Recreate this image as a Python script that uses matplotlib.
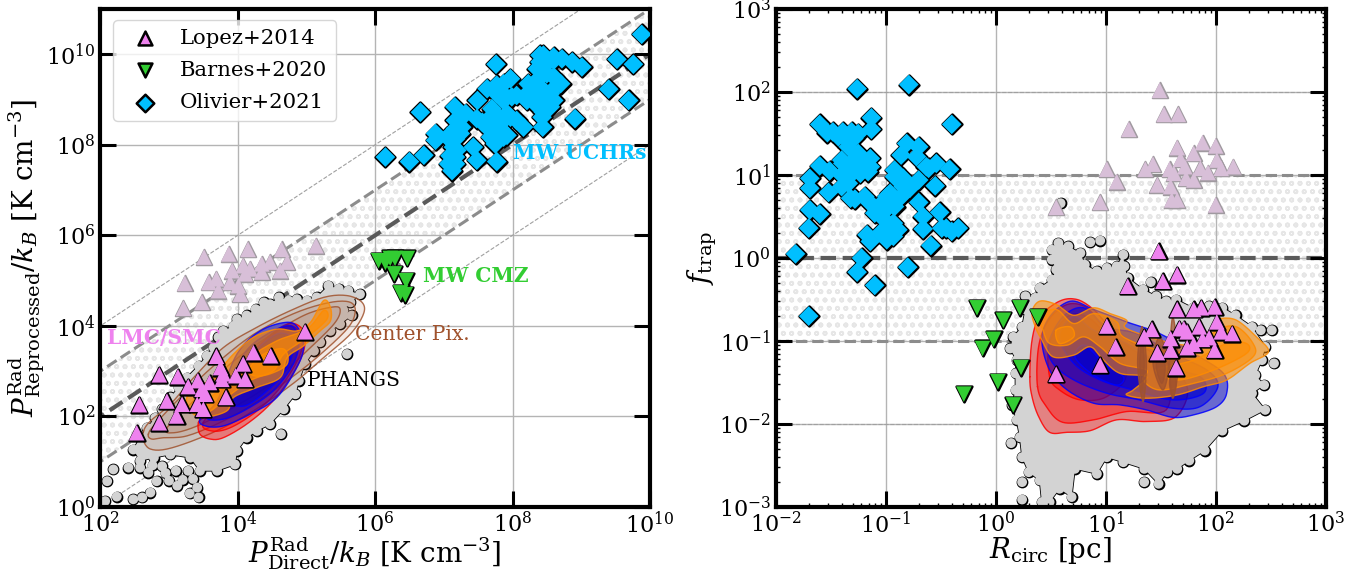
import numpy as np
import matplotlib
matplotlib.use("Agg")
import matplotlib.pyplot as plt
import matplotlib.ticker as mticker

plt.rcParams['font.family'] = ['DejaVu Serif']
plt.rcParams['mathtext.fontset'] = 'dejavuserif'
plt.rcParams['hatch.linewidth'] = 1.2
plt.rcParams['hatch.color'] = '#e6e6e6'

# ---------- all values are log10 of the quantity ----------
# Left panel
lop_x = [2.53,2.86,2.57,2.86,3.13,2.97,3.28,3.11,3.19,3.42,3.41,3.50,3.48,3.53,3.59,3.69,3.75,3.79,3.77,3.83,3.97,4.08,4.11,4.23,4.48,4.98]
lop_y = [1.64,1.86,2.26,2.92,2.88,2.34,2.66,2.01,2.27,2.79,2.27,2.16,2.60,2.49,2.75,3.33,3.08,2.94,2.82,2.42,2.90,3.16,2.82,3.41,3.34,3.87]
lop2_x = [3.23,3.21,3.48,3.51,3.87,4.15,4.64,5.14,3.58,3.69,3.72,3.92,3.89,4.01,4.04,4.08,4.11,4.18,4.35,4.35,4.47,4.62,4.72]
lop2_y = [4.94,4.39,4.52,5.52,5.59,5.69,5.69,5.77,4.96,5.04,4.78,5.22,4.96,4.89,4.70,5.33,5.15,5.26,5.37,5.19,5.41,5.22,5.41]
bar_x = [6.05,6.15,6.22,6.29,6.47,6.28,6.45,6.37,6.44]
bar_y = [5.44,5.40,5.49,5.49,5.49,5.15,5.00,4.73,4.69]
oli_x = [9.88,9.52,9.76,9.40,9.69,8.91,7.76,6.66,6.15,6.50,6.71,6.88,6.88,7.16,7.32,7.49,7.63,7.87,7.97,7.89,8.06,8.21,8.26,8.36,8.45,8.40,8.72,8.87,9.01,8.60,8.50,8.65,8.45,8.40,8.50,8.43,8.44,8.16,7.97,7.87,7.68,7.56,7.73,7.87,7.75,7.63,7.17,7.09,7.14,7.43,7.48,7.77,7.12,7.07,7.17,7.24,
         7.17,7.26,7.05,7.17,7.09,7.19,7.17,7.70,7.77,7.82,7.68,7.92,8.06,7.73,7.92,7.68,7.80,7.48,7.77,7.77,7.99,7.87,8.36,8.45,8.60,8.70,8.55,8.33,8.33,8.60,8.50,8.45,8.55,8.23,8.40,8.60]
oli_y = [10.44,9.89,9.78,9.23,8.98,8.58,9.78,8.72,7.73,7.63,7.77,8.25,8.10,8.84,8.69,8.98,9.24,9.35,9.46,9.09,9.09,8.98,9.20,9.43,9.98,9.83,9.90,9.83,9.72,9.87,9.57,9.31,9.06,9.28,8.84,8.61,8.39,8.39,8.61,8.54,8.61,8.50,8.32,8.17,8.02,8.39,8.36,8.17,7.95,7.95,7.66,7.63,7.43,7.58,7.73,8.25,
         8.54,8.39,8.17,8.13,7.76,7.88,7.58,8.80,8.47,8.36,8.47,8.69,8.54,8.10,8.21,8.17,8.61,8.58,9.32,9.13,9.06,8.98,9.68,9.72,9.50,9.35,9.13,9.09,8.91,8.98,8.98,8.72,8.84,9.35,9.98,9.94]
cloudL = [(2.58,1.02),(2.48,1.27),(2.58,1.53),(2.68,1.75),(2.80,1.97),(2.90,2.16),(3.02,2.42),(3.14,2.64),(3.26,2.86),(3.43,3.12),(3.55,3.34),(3.65,3.52),(3.72,3.75),(3.79,3.89),(3.94,4.00),(3.99,4.15),(4.13,4.23),(4.26,4.37),(4.38,4.52),(4.47,4.48),(4.60,4.63),(4.74,4.56),(4.86,4.59),(5.01,4.56),(5.15,4.63),(5.32,4.89),(5.47,4.82),(5.61,4.78),(5.78,4.70),(5.64,4.52),(5.54,4.34),(5.66,4.23),(5.49,4.04),(5.35,3.89),(5.20,3.64),(5.11,3.45),(4.98,3.16),(4.89,2.79),(4.84,2.49),(4.67,2.16),(4.47,1.83),(4.28,1.68),(4.13,1.53),(3.99,1.24),(3.96,.94),(3.70,.80),(3.45,.80),(3.31,1.09),(3.02,1.16),(2.78,1.09)]
cloudL_out = [(4.63,1.61),(5.59,3.38),(2.07,.13),(2.10,.57),(2.19,.83),(2.41,.87),(2.58,.87),(2.70,.76),(2.82,.57),(3.00,.58),(3.12,.47),(3.41,.43),(3.43,.21),(2.73,.32),(2.61,.21),(2.48,.17),(2.24,.23),(3.28,.80),(3.10,.80),(2.90,.90),(3.30,.30),(3.20,.60),(2.95,.75),(2.76,.92),(3.35,.62)]
cen_L = [[(2.63,1.68),(2.73,1.90),(3.02,2.27),(3.36,2.86),(3.79,3.52),(4.28,3.97),(4.77,4.34),(5.25,4.63),(5.59,4.67),(5.81,4.52),(5.83,4.26),(5.64,3.82),(5.25,3.30),(4.86,2.79),(4.38,2.27),(3.89,1.83),(3.41,1.50),(2.97,1.28),(2.73,1.28),(2.63,1.46)],
         [(2.70,1.61),(2.82,1.87),(3.31,2.64),(3.79,3.30),(4.28,3.86),(4.86,4.30),(5.35,4.52),(5.64,4.52),(5.71,4.30),(5.59,3.93),(5.15,3.30),(4.72,2.79),(4.23,2.27),(3.75,1.87),(3.26,1.57),(2.92,1.53),(2.75,1.50)],
         [(2.97,1.75),(3.41,2.42),(3.89,3.16),(4.43,3.75),(4.96,4.23),(5.35,4.41),(5.49,4.37),(5.40,4.04),(4.96,3.38),(4.47,2.71),(3.94,2.20),(3.41,1.79),(3.07,1.64)]]
red_L = [[(3.43,1.87),(3.55,2.05),(3.89,2.71),(4.28,3.52),(4.72,4.04),(4.96,3.89),(4.96,3.45),(4.77,2.86),(4.47,2.27),(4.13,1.83),(3.79,1.53),(3.60,1.50),(3.45,1.61)],
         [(3.50,1.87),(3.89,2.57),(4.28,3.45),(4.72,4.00),(4.94,3.75),(4.89,3.30),(4.62,2.64),(4.28,2.12),(3.89,1.75),(3.62,1.68)]]
blu_L = [[(3.45,1.94),(3.70,2.35),(3.99,3.38),(4.33,3.89),(4.72,4.08),(4.89,3.93),(4.96,3.53),(4.86,3.08),(4.57,2.42),(4.18,2.05),(3.79,1.79),(3.53,1.79)],
         [(3.55,1.98),(3.79,2.42),(4.09,3.38),(4.43,3.82),(4.77,4.00),(4.89,3.67),(4.81,3.16),(4.52,2.57),(4.13,2.16),(3.79,1.94)],
         [(3.89,2.42),(4.18,3.30),(4.57,3.82),(4.81,3.67),(4.72,3.08),(4.43,2.57),(4.09,2.23)]]
org_L = [[(3.26,2.42),(3.45,2.64),(3.70,2.97),(3.94,3.38),(4.23,3.75),(4.57,3.93),(4.86,3.89),(5.06,4.08),(5.25,4.56),(5.35,4.41),(5.35,4.11),(5.20,3.89),(4.96,3.56),(4.72,3.30),(4.62,2.86),(4.28,2.64),(3.94,2.42),(3.84,2.12),(3.50,1.98),(3.31,2.12)],
         [(3.50,2.27),(3.89,2.79),(4.18,3.30),(4.57,3.67),(5.01,3.93),(5.25,4.34),(5.30,4.15),(5.01,3.75),(4.67,3.38),(4.52,3.01),(4.18,2.79),(3.84,2.42),(3.60,2.12)],
         [(4.18,3.08),(4.38,3.38),(4.67,3.49),(4.72,3.16),(4.47,2.94),(4.23,2.90)]]

# Right panel
lopR_x = [1.48,1.65,1.52,1.20,1.65,1.80,1.87,1.99,1.42,1.35,1.01,1.09,.95,.55,1.47,1.59,1.59,1.64,1.67,1.71,1.74,1.85,2.01,2.05,2.15,1.94,1.88,1.80,1.74,1.99]
lopR_y = [.08,-.20,-.28,-.34,-.62,-.62,-.60,-.59,-.86,-.95,-.82,-1.07,-1.29,-1.40,-1.14,-.97,-1.11,-1.32,-.85,-.85,-.89,-.83,-.77,-.89,-.91,-.96,-.98,-1.04,-1.08,-1.11]
lopR2_x = [1.49,1.53,1.66,1.21,1.88,2.00,1.65,1.80,1.68,2.01,2.16,1.43,1.36,1.72,1.86,1.58,1.62,1.93,2.05,1.01,1.10,1.73,1.80,1.47,1.59,1.60,1.65,.95,.55,2.00]
lopR2_y = [2.02,1.73,1.73,1.55,1.39,1.35,1.33,1.26,1.19,1.18,1.10,1.13,1.07,1.10,1.08,1.07,1.02,1.03,1.08,1.07,.92,.96,.94,.88,.86,.70,.70,.67,.61,.64]
barR_x = [-.17,.07,.22,-.02,-.12,.23,.02,-.29,.16,.38]
barR_y = [-.60,-.75,-.60,-.98,-1.09,-1.32,-1.49,-1.64,-1.77,-.71]
oliR_x = [-1.26,-.79,-.40,-1.60,-1.53,-1.13,-1.13,-1.39,-1.31,-1.25,-1.34,-1.60,-1.51,-1.69,-1.69,-1.52,-1.40,-1.39,-1.29,-1.23,-1.14,-1.16,-.81,-.70,-.86,-.72,-.54,-.61,-.42,-.70,-.55,-.92,-.84,-.70,-.51,-.66,-.66,-.49,-.40,-.34,-.59,-1.69,-1.60,-1.70,-1.28,-1.19,-1.08,-.99,-.92,-1.01,-.89,-.99,-1.17,-1.14,-1.82,-1.22,-1.26,-1.10,-.80,-1.70,
          -1.48,-1.43,-1.35,-1.29,-1.40,-1.32,-1.36,-1.23,-1.34,-1.40,-1.25,-1.14,-1.32,-1.14,-1.10,-1.02,-.96,-.92,-.84,-.78,-.86,-1.00,-.93,-.99,-1.05,-.93,-.63,-.45]
oliR_y = [2.04,2.09,1.61,1.61,1.51,1.69,1.55,1.52,1.52,1.50,1.34,1.11,1.05,.96,.84,.79,.86,1.14,1.04,1.18,1.20,1.04,1.38,1.34,1.24,1.22,1.14,1.08,1.07,.94,.87,.98,.86,.67,.55,.50,.35,.36,.32,.36,.15,.58,.53,.36,.71,.74,.58,.74,.62,.46,.34,.22,.28,.20,.05,.00,-.17,-.33,-.11,-.70,
          1.52,1.46,1.42,1.44,1.00,1.14,1.02,1.02,.90,1.18,1.26,1.10,.72,.66,.54,.68,.78,1.06,.96,.84,.74,.58,.42,.34,.30,.26,1.10,.36]
cloudR = [(.57,.18),(.66,.14),(.77,.06),(.81,-.08),(.92,-.16),(1.01,-.12),(1.10,-.10),(1.16,.04),(1.17,-.10),(1.20,-.24),(1.34,-.38),(1.46,-.46),(1.55,-.52),(1.64,-.50),(1.79,-.60),(1.94,-.58),(2.06,-.60),(2.18,-.69),(2.33,-.83),(2.45,-1.07),(2.42,-1.23),(2.36,-1.41),(2.44,-1.53),(2.33,-1.63),(2.45,-1.83),(2.26,-1.96),(2.06,-2.08),(1.90,-2.32),(1.76,-2.44),(1.65,-2.54),(1.56,-2.58),(1.48,-2.72),(1.35,-2.54),(1.16,-2.46),(1.01,-2.40),(.92,-2.60),(.72,-2.54),(.69,-2.88),(.58,-2.78),(.49,-2.94),(.42,-2.94),(.40,-2.68),(.30,-2.58),(.24,-2.40),(.22,-2.16),(.19,-1.95),(.15,-1.77),(.18,-1.59),(.18,-1.39),(.19,-1.23),(.13,-1.09),(.16,-.95),(.24,-.83),(.27,-.62),(.27,-.46),(.36,-.48),(.40,-.36),(.51,-.26),(.55,-.14),(.51,-.02),(.51,.10)]
cloudR_out = [(.86,.19),(.95,.21),(.14,-2.23),(2.53,-1.27),(2.51,-.87),(2.41,-.87),(.24,-2.91),(.24,-2.70),(1.35,-2.70),(1.41,-.29),(.59,.66)]
red_R = [[(.31,-1.43),(.33,-.99),(.40,-.71),(.58,-.52),(.74,-.50),(.89,-.62),(1.01,-.79),(1.25,-1.03),(1.49,-1.19),(1.74,-1.55),(1.64,-1.91),(1.37,-1.97),(1.10,-1.95),(.86,-2.08),(.65,-2.10),(.49,-2.10),(.39,-1.91),(.33,-1.67)],
         [(.38,-1.55),(.39,-1.07),(.48,-.75),(.65,-.56),(.83,-.60),(.98,-.83),(1.25,-1.11),(1.55,-1.35),(1.55,-1.83),(1.19,-1.85),(.89,-1.95),(.61,-1.98),(.46,-1.79)],
         [(.49,-1.43),(.49,-1.03),(.65,-.71),(.83,-.71),(1.01,-.95),(1.19,-1.39),(1.01,-1.67),(.77,-1.71),(.58,-1.59)]]
blu_R = [[(.42,-.99),(.49,-.71),(.68,-.52),(.89,-.62),(1.19,-.77),(1.49,-.91),(1.80,-1.15),(2.07,-1.39),(2.10,-1.63),(2.01,-1.79),(1.80,-1.89),(1.61,-1.92),(1.37,-1.83),(1.13,-1.77),(.89,-1.75),(.65,-1.59),(.49,-1.35)],
         [(.48,-1.03),(.61,-.71),(.80,-.60),(1.01,-.83),(1.28,-.91),(1.61,-1.15),(1.92,-1.35),(2.02,-1.55),(1.86,-1.79),(1.61,-1.81),(1.31,-1.71),(1.01,-1.63),(.71,-1.47),(.52,-1.27)],
         [(.58,-.95),(.71,-.71),(.89,-.87),(1.19,-1.03),(1.55,-1.31),(1.86,-1.43),(1.89,-1.63),(1.61,-1.71),(1.25,-1.59),(.95,-1.47),(.71,-1.27)],
         [(.72,-1.19),(.81,-1.05),(.98,-1.27),(1.16,-1.43),(1.10,-1.53),(.89,-1.41)]]
org_R = [[(.33,-.65),(.40,-.52),(.55,-.56),(.71,-.69),(.89,-.60),(1.04,-.67),(1.19,-.75),(1.19,-.85),(1.55,-1.01),(1.80,-1.03),(2.00,-.79),(2.04,-.73),(2.19,-.75),(2.37,-.95),(2.48,-1.13),(2.31,-1.27),(2.10,-1.47),(1.89,-1.55),(1.65,-1.65),(1.37,-1.69),(1.19,-1.65),(1.25,-1.59),(1.37,-1.43),(1.13,-1.39),(.98,-1.23),(.86,-1.07),(.71,-1.17),(.52,-1.19),(.42,-.99),(.36,-.83)],
         [(.40,-.71),(.55,-.62),(.71,-.79),(.89,-.67),(1.10,-.77),(1.16,-.95),(1.49,-1.11),(1.80,-1.11),(2.01,-.87),(2.19,-.83),(2.34,-1.03),(2.34,-1.19),(2.10,-1.39),(1.80,-1.51),(1.49,-1.59),(1.34,-1.47),(1.37,-1.35),(1.13,-1.27),(.95,-1.07),(.80,-.95),(.65,-1.05),(.49,-1.03),(.43,-.87)],
         [(1.46,-1.35),(1.80,-1.23),(2.10,-1.03),(2.28,-1.03),(2.28,-1.15),(1.98,-1.35),(1.65,-1.47)],
         [(.55,-.87),(.68,-.83),(.71,-.95),(.58,-1.03)]]
cen_R = [[(1.33,-.83),(1.37,-1.27),(1.34,-1.73),(1.29,-1.27)],[(1.33,-.99),(1.35,-1.27),(1.33,-1.59),(1.31,-1.27)],
         [(1.49,-.95),(1.57,-1.27),(1.52,-1.59),(1.43,-1.27)],[(1.49,-1.11),(1.54,-1.31),(1.51,-1.51),(1.46,-1.31)],
         [(1.61,-.71),(1.66,-1.27),(1.61,-1.69),(1.58,-1.27)],[(1.61,-1.35),(1.64,-1.51),(1.61,-1.67),(1.58,-1.51)]]

ratio_levels = [0.01, 0.1, 1, 10, 100]
ratio_widths = [0.8, 2.2, 3.0, 2.2, 0.8]
ratio_colors = ['#a0a0a0', '#8c8c8c', '#5a5a5a', '#8c8c8c', '#a0a0a0']

labels_left = [('LMC/SMC', 2.10, 3.73, 'violet', 'bold'), ('Center Pix.', 5.71, 3.80, 'sienna', 'normal'),
               ('PHANGS', 5.01, 2.80, 'black', 'normal'), ('MW UCHRs', 8.00, 7.81, 'deepskyblue', 'bold'),
               ('MW CMZ', 6.70, 5.10, 'limegreen', 'bold')]


def smooth(pts):
    """closed Catmull-Rom outline through the read vertices, log space"""
    p = np.array(pts, float)
    out = []
    n = len(p)
    for i in range(n):
        p0, p1, p2, p3 = p[i - 1], p[i], p[(i + 1) % n], p[(i + 2) % n]
        for t in np.linspace(0, 1, 10, endpoint=False):
            out.append(0.5 * ((2 * p1) + (-p0 + p2) * t + (2 * p0 - 5 * p1 + 4 * p2 - p3) * t**2 + (-p0 + 3 * p1 - 3 * p2 + p3) * t**3))
    out = np.array(out)
    return 10**out[:, 0], 10**out[:, 1]


def blobs(ax, sets, face, edge, alpha, z):
    for i, s in enumerate(sets):
        x, y = smooth(s)
        ax.fill(x, y, facecolor=face, edgecolor='none', alpha=alpha, zorder=z + i * 0.01)
        ax.plot(np.r_[x, x[0]], np.r_[y, y[0]], color=edge, lw=1.0, alpha=0.85, zorder=z + i * 0.01)


def marks(ax, xs, ys, marker, s, color, edge='k', lw=2.0, z=5, label=None):
    """black silhouette first, fill on top: overlapping marks merge"""
    x, y = 10**np.array(xs), 10**np.array(ys)
    ax.scatter(x, y, marker=marker, s=s, c=edge, edgecolors=edge, linewidths=lw, zorder=z)
    ax.scatter(x, y, marker=marker, s=s, c=color, edgecolors='none', zorder=z + 0.01)
    return ax.scatter([], [], marker=marker, s=s * 0.8, c=color, edgecolors=edge, linewidths=1.8, label=label)


def cloud(ax, outline, outliers):
    p = 10**np.array(outline)
    q = 10**np.array(outliers)
    ax.fill(p[:, 0], p[:, 1], facecolor='lightgray', edgecolor='k', lw=1.2, zorder=2.0)
    for a in (p, q):
        ax.scatter(a[:, 0], a[:, 1], s=50, c='k', edgecolors='k', linewidths=1.4, zorder=2.05)
    for a in (p, q):
        ax.scatter(a[:, 0], a[:, 1], s=50, c='lightgray', edgecolors='none', zorder=2.1)
    ax.fill(p[:, 0], p[:, 1], facecolor='lightgray', edgecolor='none', zorder=2.2)


def style(ax, xt, yt):
    for s in ax.spines.values():
        s.set_linewidth(3)
    ax.set_axisbelow(False)
    for v in xt:
        ax.axvline(v, color='#b4b4b4', lw=1.0, zorder=1)
    for v in yt:
        ax.axhline(v, color='#b4b4b4', lw=1.0, zorder=1)
    ax.tick_params(which='major', direction='in', length=11.5, width=2.2, top=True, right=True, labelsize=16, pad=3.5)


fig = plt.figure(figsize=(13.71, 5.73), dpi=100)
axL = fig.add_axes([100.3 / 1371, 66 / 573, 549.6 / 1371, 498 / 573])
axR = fig.add_axes([775.7 / 1371, 66 / 573, 550 / 1371, 498 / 573])

# ------- left -------
ax = axL
ax.set_xscale('log'); ax.set_yscale('log')
xx = np.array([1e0, 1e12])
ax.fill_between(xx, xx * 0.1, xx * 10, facecolor='none', edgecolor='#e6e6e6', hatch='oo', lw=0, zorder=0.5)
for r, w, c in zip(ratio_levels, ratio_widths, ratio_colors):
    ax.plot(xx, xx * r, ls='--', lw=w, color=c, zorder=1.5)
cloud(ax, cloudL, cloudL_out)
blobs(ax, cen_L, 'sienna', 'sienna', 0.12, 2.5)
blobs(ax, red_L, 'red', 'red', 0.42, 3)
blobs(ax, blu_L, 'mediumblue', 'blue', 0.5, 3.2)
blobs(ax, org_L, 'darkorange', 'darkorange', 0.65, 3.4)
h1 = marks(ax, lop_x, lop_y, '^', 125, 'violet', label='Lopez+2014')
marks(ax, lop2_x, lop2_y, '^', 125, '#d8bfd8', edge='#a09aa0', lw=1.4, z=4.8)
h2 = marks(ax, bar_x, bar_y, 'v', 125, 'limegreen', label='Barnes+2020')
h3 = marks(ax, oli_x, oli_y, 'D', 100, 'deepskyblue', label='Olivier+2021')
for t, x, y, c, w in labels_left:
    ax.text(10**x, 10**y, t, color=c, fontweight=w, fontsize=14.6, va='center', ha='left', zorder=6)
xt = [10.0**k for k in range(2, 11, 2)]
yt = [10.0**k for k in range(0, 11, 2)]
ax.set_xticks(xt)
ax.set_yticks(yt)
ax.minorticks_off()
style(ax, xt, yt)
ax.set_xlim(1e2, 1e10); ax.set_ylim(1e0, 1e11)
ax.set_xlabel(r'$P^{\rm Rad}_{\rm Direct}/k_B$ [K cm$^{-3}$]', fontsize=20, labelpad=-2.5)
ax.set_ylabel(r'$P^{\rm Rad}_{\rm Reprocessed}/k_B$ [K cm$^{-3}$]', fontsize=20, labelpad=-0.5)
ax.legend(handles=[h1, h2, h3], loc='upper left', fontsize=15.3, bbox_to_anchor=(0.012, 0.99), borderaxespad=0.3, framealpha=0.8,
          handletextpad=0.55, labelspacing=0.62, handlelength=2.2).set_zorder(7)

# ------- right -------
ax = axR
ax.set_xscale('log'); ax.set_yscale('log')
xx = np.array([1e-3, 1e4])
ax.fill_between(xx, 0.1, 10, facecolor='none', edgecolor='#e6e6e6', hatch='oo', lw=0, zorder=0.5)
for r, w, c in zip(ratio_levels, ratio_widths, ratio_colors):
    ax.plot(xx, [r, r], ls='--', lw=w, color=c, zorder=1.5)
cloud(ax, cloudR, cloudR_out)
blobs(ax, red_R, 'red', 'red', 0.38, 3)
blobs(ax, blu_R, 'mediumblue', 'blue', 0.5, 3.2)
blobs(ax, org_R, 'darkorange', 'darkorange', 0.55, 3.4)
blobs(ax, cen_R, 'sienna', 'sienna', 0.7, 3.6)
marks(ax, lopR_x, lopR_y, '^', 125, 'violet')
marks(ax, lopR2_x, lopR2_y, '^', 125, '#d8bfd8', edge='#a09aa0', lw=1.4, z=4.8)
marks(ax, barR_x, barR_y, 'v', 125, 'limegreen')
marks(ax, oliR_x, oliR_y, 'D', 100, 'deepskyblue')
ax.set_xticks([10.0**k for k in range(-2, 4)])
ax.set_yticks([10.0**k for k in range(-3, 4)])
ax.xaxis.set_minor_locator(mticker.LogLocator(base=10, subs=np.arange(2, 10) * 0.1, numticks=12))
ax.yaxis.set_minor_locator(mticker.LogLocator(base=10, subs=np.arange(2, 10) * 0.1, numticks=12))
ax.xaxis.set_minor_formatter(mticker.NullFormatter())
ax.yaxis.set_minor_formatter(mticker.NullFormatter())
style(ax, [10.0**k for k in range(-1, 3)], [10.0**k for k in range(-2, 3)])
ax.tick_params(which='minor', direction='in', length=3, width=1, top=True, right=True)
ax.set_xlim(1e-2, 1e3); ax.set_ylim(1e-3, 1e3)
ax.set_xlabel(r'$R_{\rm circ}$ [pc]', fontsize=20, labelpad=-2.5)
ax.set_ylabel(r'$f_{\rm trap}$', fontsize=20, labelpad=-0.5)

fig.savefig('out.png', dpi=100)
